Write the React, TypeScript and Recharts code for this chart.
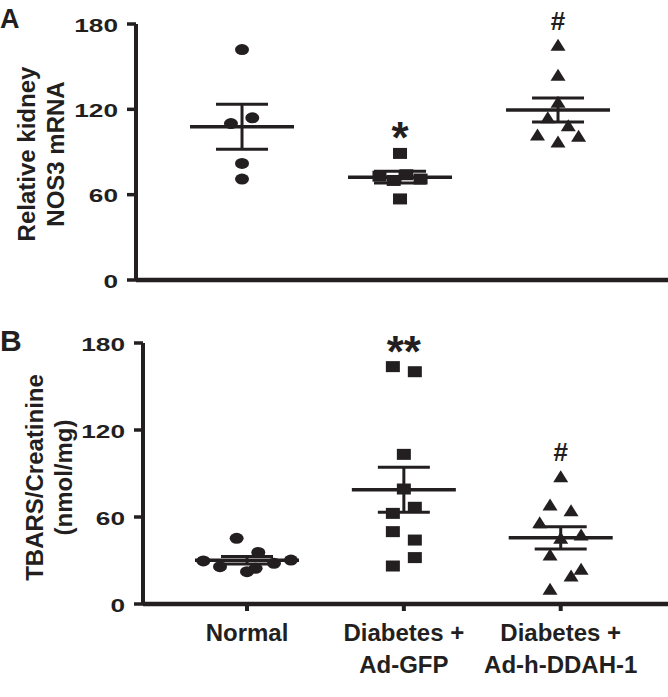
import React from 'react';
import { ScatterChart, Scatter, XAxis, YAxis, ErrorBar } from 'recharts';

const INK = '#231f20';
const FONT = '"Liberation Sans", Arial, Helvetica, sans-serif';

const groupLines = [['Normal'], ['Diabetes +', 'Ad-GFP'], ['Diabetes +', 'Ad-h-DDAH-1']];
const yTicks = [0, 60, 120, 180];
const xTicks = [1, 2, 3];

// Panel A - relative kidney NOS3 mRNA
const nos3Normal = [162, 114, 110, 82, 71];
const nos3NormalJitter = [0, 0.065, -0.07, 0, 0];
const nos3Gfp = [89, 74, 73, 71, 70, 57];
const nos3GfpJitter = [0, 0.04, -0.13, 0.13, -0.04, 0];
const nos3Ddah = [165, 144, 125, 114, 108.5, 102, 101, 97];
const nos3DdahJitter = [0, 0, 0, -0.065, 0.065, -0.13, 0.13, 0];
const nos3Marks = ['', '*', '#'];

// Panel B - TBARS / creatinine
const tbarsNormal = [45.3, 35.6, 30.3, 29.7, 28.1, 25.7, 24.6, 22.3];
const tbarsNormalJitter = [-0.066, 0.072, 0.28, -0.278, 0.172, -0.172, 0.055, 0];
const tbarsGfp = [163.7, 160.2, 103.2, 79.3, 66.7, 62.5, 49.9, 44.1, 32, 26.2];
const tbarsGfpJitter = [-0.07, 0.07, 0, 0, 0.07, -0.07, -0.07, 0.07, 0.07, -0.07];
const tbarsDdah = [87.8, 68.3, 64.3, 56, 47.6, 45.3, 33.8, 23.9, 19.3, 10.1];
const tbarsDdahJitter = [0, -0.068, 0.066, -0.134, 0.13, 0, -0.068, 0.13, 0.066, -0.068];
const tbarsMarks = ['', '**', '#'];

const toPoints = (vals: number[], jitter: number[], group: number) =>
  vals.map((y, i) => ({ x: group + jitter[i], y }));

const toSummary = (vals: number[], group: number) => {
  const n = vals.length;
  const mean = vals.reduce((a, b) => a + b, 0) / n;
  const sd = Math.sqrt(vals.reduce((a, b) => a + (b - mean) ** 2, 0) / (n - 1));
  return [{ x: group, y: mean, err: sd / Math.sqrt(n) }];
};

const toMarks = (groupsVals: number[][], marks: string[]) =>
  groupsVals
    .map((vals, i) => ({ x: i + 1, y: Math.max(...vals), mark: marks[i] }))
    .filter((d) => d.mark);

const Dot = ({ cx, cy }: any) => <ellipse cx={cx} cy={cy} rx={7} ry={5.5} fill={INK} />;
const Square = ({ cx, cy }: any) => (
  <rect x={cx - 7} y={cy - 5.5} width={14} height={11} fill={INK} />
);
const Tri = ({ cx, cy }: any) => (
  <path d={`M${cx},${cy - 6.5}L${cx + 7.5},${cy + 5.5}L${cx - 7.5},${cy + 5.5}Z`} fill={INK} />
);
const MeanLine = ({ cx, cy }: any) => (
  <line x1={cx - 52} x2={cx + 52} y1={cy} y2={cy} stroke={INK} strokeWidth={3.5} />
);
const Mark = ({ cx, cy, payload }: any) => {
  const star = payload.mark.startsWith('*');
  return (
    <text
      x={cx}
      y={star ? cy - 25 + 25 : cy - 25 + 9.5}
      textAnchor="middle"
      fontFamily={FONT}
      fontWeight="bold"
      fontSize={star ? 44 : 26}
      fill={INK}
    >
      {payload.mark}
    </text>
  );
};

const YTick = ({ x, y, payload }: any) => (
  <g transform={`translate(${x},${y})`}>
    <text
      transform="scale(1.42,1)"
      y={7.6}
      textAnchor="end"
      fontFamily={FONT}
      fontWeight="bold"
      fontSize={18.5}
      fill={INK}
    >
      {payload.value}
    </text>
  </g>
);

const XTick = ({ x, y, payload }: any) => (
  <g>
    {groupLines[payload.value - 1].map((line, i) => (
      <text
        key={i}
        x={x}
        y={y + 29.7 + i * 31.8}
        textAnchor="middle"
        fontFamily={FONT}
        fontWeight="bold"
        fontSize={24}
        fill={INK}
      >
        {line}
      </text>
    ))}
  </g>
);

const Titles = ({ letter, letterY, letterSize, lines, cy, x1 }: any) => (
  <g fontFamily={FONT} fontWeight="bold" fill={INK}>
    <text x={0} y={letterY} fontSize={letterSize}>
      {letter}
    </text>
    {lines.map((line: string, i: number) => (
      <text
        key={i}
        transform={`translate(${x1 + i * 28.5},${cy}) rotate(-90)`}
        textAnchor="middle"
        fontSize={24}
      >
        {line}
      </text>
    ))}
  </g>
);

function Panel({ top, height, margin, domain, series, marks, xLabels, titles }: any) {
  return (
    <div style={{ position: 'absolute', left: 0, top, width: 668, height }}>
      <ScatterChart width={668} height={height} margin={margin}>
        <XAxis
          type="number"
          dataKey="x"
          domain={domain}
          ticks={xTicks}
          axisLine={{ stroke: INK, strokeWidth: 4.5 }}
          tickLine={{ stroke: INK, strokeWidth: 4 }}
          tickSize={7}
          tickMargin={0}
          height={xLabels ? 93 : 20}
          tick={xLabels ? <XTick /> : false}
        />
        <YAxis
          type="number"
          dataKey="y"
          domain={[0, 180]}
          ticks={yTicks}
          width={60}
          axisLine={{ stroke: INK, strokeWidth: 4 }}
          tickLine={{ stroke: INK, strokeWidth: 3.5 }}
          tickSize={9}
          tickMargin={9}
          tick={<YTick />}
          label={{ content: () => <Titles {...titles} /> }}
        />
        {series.map((s: any, i: number) => (
          <Scatter
            key={`p${i}`}
            data={toPoints(s.vals, s.jitter, i + 1)}
            shape={s.shape}
            isAnimationActive={false}
          />
        ))}
        {series.map((s: any, i: number) => (
          <Scatter
            key={`m${i}`}
            data={toSummary(s.vals, i + 1)}
            shape={<MeanLine />}
            isAnimationActive={false}
          >
            <ErrorBar dataKey="err" direction="y" width={26} stroke={INK} strokeWidth={3} />
          </Scatter>
        ))}
        <Scatter data={marks} shape={<Mark />} isAnimationActive={false} />
      </ScatterChart>
    </div>
  );
}

export default function App() {
  return (
    <div style={{ position: 'absolute', left: 0, top: 0, width: 668, height: 697, background: '#fff' }}>
      <Panel
        top={0}
        height={300}
        margin={{ top: 24, right: 0, bottom: 0, left: 76 }}
        domain={[0.329, 3.696]}
        series={[
          { vals: nos3Normal, jitter: nos3NormalJitter, shape: <Dot /> },
          { vals: nos3Gfp, jitter: nos3GfpJitter, shape: <Square /> },
          { vals: nos3Ddah, jitter: nos3DdahJitter, shape: <Tri /> },
        ]}
        marks={toMarks([nos3Normal, nos3Gfp, nos3Ddah], nos3Marks)}
        xLabels={false}
        titles={{
          letter: 'A',
          letterY: 28.3,
          letterSize: 27,
          lines: ['Relative kidney', 'NOS3 mRNA'],
          cy: 154,
          x1: 35,
        }}
      />
      <Panel
        top={300}
        height={397}
        margin={{ top: 43, right: 0, bottom: 0, left: 83 }}
        domain={[0.337, 3.684]}
        series={[
          { vals: tbarsNormal, jitter: tbarsNormalJitter, shape: <Dot /> },
          { vals: tbarsGfp, jitter: tbarsGfpJitter, shape: <Square /> },
          { vals: tbarsDdah, jitter: tbarsDdahJitter, shape: <Tri /> },
        ]}
        marks={toMarks([tbarsNormal, tbarsGfp, tbarsDdah], tbarsMarks)}
        xLabels={true}
        titles={{
          letter: 'B',
          letterY: 50.7,
          letterSize: 30,
          lines: ['TBARS/Creatinine', '(nmol/mg)'],
          cy: 177.5,
          x1: 43.3,
        }}
      />
    </div>
  );
}
